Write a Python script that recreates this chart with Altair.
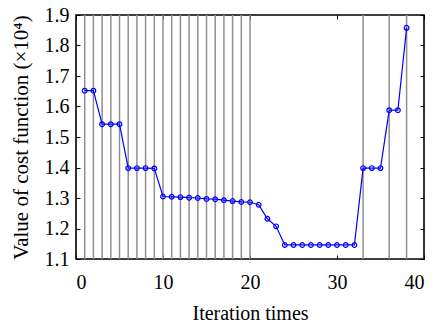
import altair as alt
import pandas as pd

# iteration index and cost-function value (x10^4)
iterations = list(range(1, 39))
cost_values = [
    1.652, 1.652, 1.542, 1.542, 1.542, 1.398, 1.398, 1.398, 1.397, 1.305,
    1.304, 1.303, 1.301, 1.300, 1.297, 1.296, 1.293, 1.290, 1.287, 1.286,
    1.278, 1.232, 1.207, 1.146, 1.146, 1.146, 1.146, 1.146, 1.146, 1.146,
    1.146, 1.146, 1.398, 1.398, 1.398, 1.588, 1.588, 1.858,
]
# iterations marked with vertical lines
marked_iterations = list(range(1, 21)) + [33, 36, 38]

x_ticks = [0, 10, 20, 30, 40]
y_ticks = [1.1, 1.2, 1.3, 1.4, 1.5, 1.6, 1.7, 1.8, 1.9]

df = pd.DataFrame({"it": iterations, "cost": cost_values})
df_marks = pd.DataFrame({"it": marked_iterations})

FONT = "Liberation Serif"
xscale = alt.Scale(domain=[0, 40], nice=False, zero=False)
yscale = alt.Scale(domain=[1.1, 1.9], nice=False, zero=False)

inward = alt.ExprRef(expr="-4")

x_axis = alt.Axis(
    orient="bottom", values=x_ticks, title="Iteration times", grid=False, domain=False,
    tickSize=inward, tickColor="black", tickWidth=1,
    labelPadding=17, labelFont=FONT, labelFontSize=20, labelColor="black",
    titleFont=FONT, titleFontSize=20, titleFontWeight="normal", titleColor="black",
    titleY=60, titleBaseline="alphabetic",
)
y_axis = alt.Axis(
    orient="left", values=y_ticks, format=".1f", title="Value of cost function (×10⁴)",
    grid=False, domain=False,
    tickSize=inward, tickColor="black", tickWidth=1,
    labelPadding=11, labelFont=FONT, labelFontSize=20, labelColor="black",
    titleFont=FONT, titleFontSize=21, titleFontWeight="normal", titleColor="black",
    titleX=-49, titleY=122, titleBaseline="alphabetic",
)
x_axis_top = alt.Axis(
    orient="top", values=x_ticks, title="", labels=False, grid=False,
    domain=False, tickSize=inward, tickColor="black", tickWidth=1,
)
y_axis_right = alt.Axis(
    orient="right", values=y_ticks, title="", labels=False, grid=False,
    domain=False, tickSize=inward, tickColor="black", tickWidth=1,
)

vlines = alt.Chart(df_marks).mark_rule(color="#8f8f8f", strokeWidth=1.5).encode(
    x=alt.X("it:Q", scale=xscale, axis=x_axis),
    y=alt.value(0),
    y2=alt.value(244),
)

line = alt.Chart(df).mark_line(color="#0000ff", strokeWidth=1.2).encode(
    x=alt.X("it:Q", scale=xscale, axis=None),
    y=alt.Y("cost:Q", scale=yscale, axis=y_axis),
)

pts = alt.Chart(df).mark_point(
    shape="circle", filled=False, color="#0000ff", size=22, strokeWidth=1.2, opacity=1
).encode(
    x=alt.X("it:Q", scale=xscale, axis=x_axis_top),
    y=alt.Y("cost:Q", scale=yscale, axis=y_axis_right),
)

chart = (
    alt.layer(vlines, line, pts)
    .resolve_axis(x="independent", y="independent")
    .properties(
        width=348,
        height=244,
        autosize=alt.AutoSizeParams(type="none"),
        padding={"left": 68, "top": 7, "right": 4, "bottom": 64},
        background="white",
    )
    .configure_view(stroke="black", strokeWidth=1.6)
)

chart.save("out.html", embed_options={"renderer": "svg", "actions": False})
